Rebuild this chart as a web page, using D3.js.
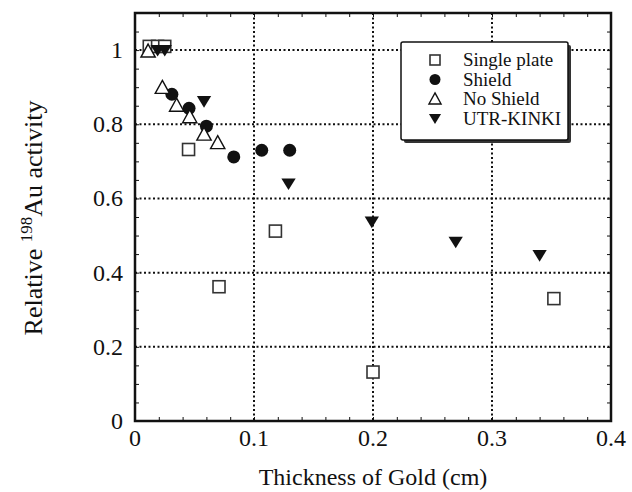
<!DOCTYPE html>
<html><head><meta charset="utf-8">
<script src="https://cdn.jsdelivr.net/npm/d3@7"></script>
<style>body{margin:0;background:#fff}</style>
</head><body><svg id="c" width="632" height="492"></svg>
<script>
const xTicks = [0, 0.1, 0.2, 0.3, 0.4];
const yTicks = [0, 0.2, 0.4, 0.6, 0.8, 1];
const xTickLabels = ["0", "0.1", "0.2", "0.3", "0.4"];
const yTickLabels = ["0", "0.2", "0.4", "0.6", "0.8", "1"];
const seriesNames = ["Single plate", "Shield", "No Shield", "UTR-KINKI"];
const singlePlate = [[0.012,1.01],[0.019,1.01],[0.025,1.01],[0.045,0.732],[0.0706,0.362],[0.118,0.512],[0.2,0.132],[0.352,0.33]];
const shield = [[0.031,0.881],[0.0454,0.843],[0.060,0.795],[0.083,0.712],[0.1065,0.730],[0.130,0.730]];
const noShield = [[0.011,0.997],[0.023,0.899],[0.035,0.851],[0.046,0.82],[0.058,0.773],[0.0695,0.75]];
const utrKinki = [[0.019,1.0],[0.025,1.0],[0.058,0.862],[0.129,0.64],[0.199,0.537],[0.2695,0.483],[0.34,0.447]];

const SERIF = "'Liberation Serif','Times New Roman',Times,serif";
const svg = d3.select("#c");
const L=135, R=611, T=13, B=421;
const x = d3.scaleLinear().domain([0,0.4]).range([L,R]);
const y = d3.scaleLinear().domain([0,1.1]).range([B,T]);

// grid
const g = svg.append("g");
g.selectAll(".hg").data(yTicks.filter(v=>v>0)).join("line")
 .attr("x1",L).attr("x2",R).attr("y1",d=>y(d)).attr("y2",d=>y(d))
 .attr("stroke","#111").attr("stroke-width",2).attr("stroke-dasharray","2,2.5");
g.selectAll(".vg").data(xTicks.filter(v=>v>0&&v<0.4)).join("line")
 .attr("y1",T).attr("y2",B).attr("x1",d=>x(d)).attr("x2",d=>x(d))
 .attr("stroke","#111").attr("stroke-width",2).attr("stroke-dasharray","2,2.5");

// axes (ticks inside)
const xb = d3.axisBottom(x).tickValues(d3.range(0,0.401,0.02)).tickSize(-4).tickFormat("");
const xt = d3.axisTop(x).tickValues(d3.range(0,0.401,0.02)).tickSize(-4).tickFormat("");
const yl = d3.axisLeft(y).tickValues(d3.range(0,1.101,0.05)).tickSize(-4).tickFormat("");
const yr = d3.axisRight(y).tickValues(d3.range(0,1.101,0.05)).tickSize(-4).tickFormat("");
[[xb,`translate(0,${B})`],[xt,`translate(0,${T})`],[yl,`translate(${L},0)`],[yr,`translate(${R},0)`]].forEach(([a,t])=>{
  const ag = svg.append("g").attr("transform",t).call(a);
  ag.select(".domain").remove();
  ag.selectAll("line").attr("stroke","#111").attr("stroke-width",1);
});
svg.append("rect").attr("x",L).attr("y",T).attr("width",R-L).attr("height",B-T)
 .attr("fill","none").attr("stroke","#111").attr("stroke-width",2.5);

// tick labels
svg.selectAll(".xl").data(xTicks).join("text").attr("x",d=>x(d)).attr("y",446)
 .attr("text-anchor","middle").attr("font-family",SERIF).attr("font-size",24).attr("fill","#111").text((d,i)=>xTickLabels[i]);
svg.selectAll(".yl").data(yTicks).join("text").attr("x",123).attr("y",d=>y(d)+8)
 .attr("text-anchor","end").attr("font-family",SERIF).attr("font-size",24).attr("fill","#111").text((d,i)=>yTickLabels[i]);

// axis titles
svg.append("text").attr("x",373).attr("y",485).attr("text-anchor","middle").attr("font-family",SERIF).attr("font-size",24).attr("fill","#111").text("Thickness of Gold (cm)");
const yt = svg.append("text").attr("transform","translate(42,218) rotate(-90)").attr("text-anchor","middle").attr("font-family",SERIF).attr("font-size",26).attr("fill","#111");
yt.append("tspan").text("Relative ");
yt.append("tspan").attr("font-size",17).attr("dy",-10).text("198");
yt.append("tspan").attr("dy",10).text("Au activity");

// markers
function drawSym(sel, type, s){
  if(type===0) sel.append("rect").attr("x",-s/2).attr("y",-s/2).attr("width",s).attr("height",s).attr("fill","#fff").attr("stroke","#333").attr("stroke-width",1.6);
  else if(type===1) sel.append("circle").attr("r",s/2).attr("fill","#111");
  else if(type===2) sel.append("path").attr("d",`M0,${-s*0.55}L${s*0.55},${s*0.45}L${-s*0.55},${s*0.45}Z`).attr("fill","#fff").attr("stroke","#111").attr("stroke-width",1.4);
  else sel.append("path").attr("d",`M${-s*0.55},${-s*0.4}L${s*0.55},${-s*0.4}L0,${s*0.5}Z`).attr("fill","#111");
}
const allSeries=[singlePlate,shield,noShield,utrKinki];
const sizes=[12,13,13,13];
allSeries.forEach((data,k)=>{
  svg.append("g").selectAll("g").data(data).join("g")
   .attr("transform",d=>`translate(${x(d[0])},${y(d[1])})`)
   .each(function(){drawSym(d3.select(this),k,sizes[k]);});
});

// legend
const lg = svg.append("g");
lg.append("rect").attr("x",404).attr("y",45).attr("width",167).attr("height",98).attr("fill","#333").attr("rx",2);
lg.append("rect").attr("x",401).attr("y",42).attr("width",167).attr("height",98).attr("fill","#fff").attr("stroke","#111").attr("stroke-width",1.5).attr("rx",2);
seriesNames.forEach((n,i)=>{
  const cy = 60 + i*19.5;
  const sg = lg.append("g").attr("transform",`translate(435,${cy})`);
  drawSym(sg,i,i===0?10:11);
  lg.append("text").attr("x",463).attr("y",cy+6).attr("font-family",SERIF).attr("font-size",19).attr("fill","#111").text(n);
});
</script></body></html>
